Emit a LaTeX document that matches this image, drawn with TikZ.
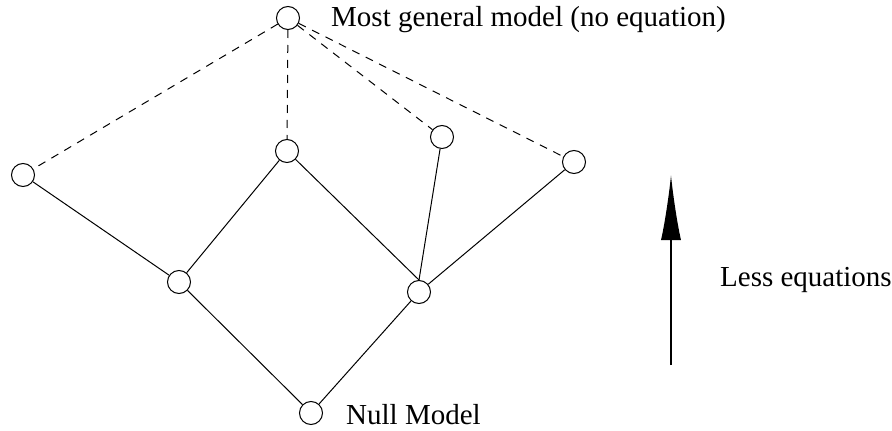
\documentclass[tikz,border=0pt]{standalone}
\usepackage{fontspec}
\setmainfont{Liberation Serif}
\usetikzlibrary{arrows.meta}
\begin{document}
\begin{tikzpicture}[x=1pt,y=-1pt,
  vtx/.style={circle,draw,line width=1pt,minimum size=23pt,inner sep=0pt},
  edge/.style={line width=1pt},
  dashedge/.style={line width=1pt,dash pattern=on 8pt off 7pt},
  lbl/.style={font=\fontsize{29}{33}\selectfont,anchor=west,inner sep=0pt}]
\useasboundingbox (0,0) rectangle (892,431);
\node[vtx] (top) at (288,18) {};
\node[vtx] (n1) at (23,175) {};
\node[vtx] (n2) at (287,151) {};
\node[vtx] (n3) at (442,137) {};
\node[vtx] (n4) at (574,162) {};
\node[vtx] (n5) at (179,282) {};
\node[vtx] (n6) at (419,292) {};
\node[vtx] (bot) at (311,413) {};
\draw[dashedge] (top) -- (n1);
\draw[dashedge] (top) -- (n2);
\draw[dashedge] (top) -- (n3);
\draw[dashedge] (top) -- (n4);
\draw[edge] (n1) -- (n5);
\draw[edge] (n2) -- (n5);
\draw[edge] (n2) -- (n6.north);
\draw[edge] (n3) -- (n6.north);
\draw[edge] (n4) -- (n6);
\draw[edge] (n5) -- (bot);
\draw[edge] (n6) -- (bot);
\coordinate (atail) at (671,365);
\coordinate (ahead) at (671,175);
\draw[line width=1.5pt,-{Latex[length=65pt,width=20pt]}] (atail) -- (ahead);
\node[lbl] (lmost) at (331,20) {Most general model (no equation)};
\node[lbl] (lless) at (720,280) {Less equations};
\node[lbl] (lnull) at (346,415) {Null Model};
\end{tikzpicture}
\end{document}
